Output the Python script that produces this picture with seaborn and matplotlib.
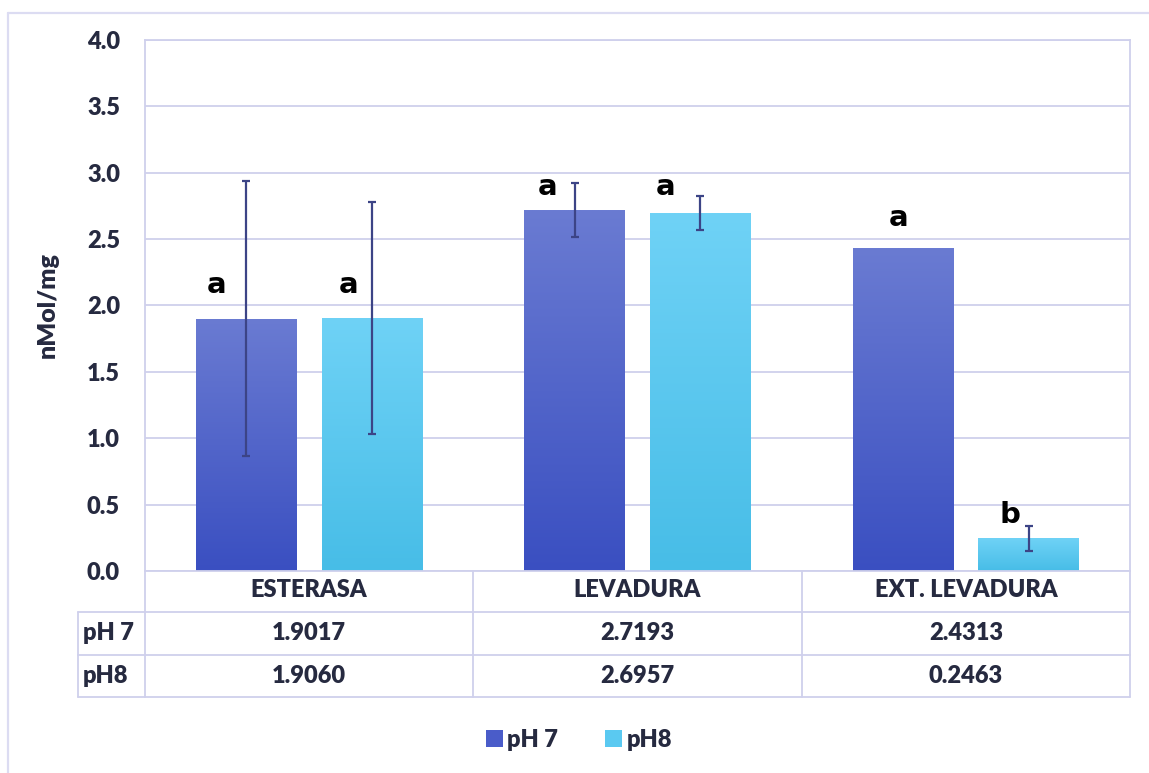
import numpy as np
import pandas as pd
import matplotlib
matplotlib.use("Agg")
import matplotlib.pyplot as plt
import matplotlib.transforms as mtransforms
from matplotlib.colors import LinearSegmentedColormap
from matplotlib.lines import Line2D
from matplotlib.patches import Rectangle
import seaborn as sns

# ---- data ----
categories = ["ESTERASA", "LEVADURA", "EXT. LEVADURA"]
series = ["pH 7", "pH8"]
ph7_values = [1.9017, 2.7193, 2.4313]
ph8_values = [1.9060, 2.6957, 0.2463]
ph7_sd = [1.033, 0.202, 0.0]
ph8_sd = [0.875, 0.130, 0.092]
ph7_letters = ["a", "a", "a"]
ph8_letters = ["a", "a", "b"]
ph7_table = ["1.9017", "2.7193", "2.4313"]
ph8_table = ["1.9060", "2.6957", "0.2463"]
y_ticks = [0.0, 0.5, 1.0, 1.5, 2.0, 2.5, 3.0, 3.5, 4.0]
y_label = "nMol/mg"

# ---- style ----
TEXT = "#262a40"
GRID = "#cfd0ec"
ERR = "#3c4486"
PH7_TOP, PH7_BOT = "#6a7bd2", "#3a4fc1"
PH8_TOP, PH8_BOT = "#6fd2f6", "#47bde7"
LEG7, LEG8 = "#4a5cc9", "#5ac9f1"
FONT = "Lato"
WEIGHT = "heavy"

sns.set_theme(style="white")
plt.rcParams["font.family"] = [FONT, "DejaVu Sans"]

df = pd.DataFrame({
    "category": categories * 2,
    "series": [series[0]] * 3 + [series[1]] * 3,
    "value": ph7_values + ph8_values,
})

fig = plt.figure(figsize=(11.49, 7.73), dpi=100)
ax = fig.add_axes([145 / 1149, 1 - 571 / 773, 985 / 1149, 531 / 773])

sns.barplot(data=df, x="category", y="value", hue="series", order=categories,
            hue_order=series, palette=[LEG7, LEG8], width=0.765, gap=0.2,
            errorbar=None, legend=False, ax=ax, zorder=2)

# vertical gradient fill inside every bar
grad = np.linspace(0, 1, 256).reshape(-1, 1)
cmaps = [LinearSegmentedColormap.from_list("g7", [PH7_BOT, PH7_TOP]),
         LinearSegmentedColormap.from_list("g8", [PH8_BOT, PH8_TOP])]
centers = []
for cont, cmap in zip(ax.containers, cmaps):
    cs = []
    for bar in cont:
        x0, w, h = bar.get_x(), bar.get_width(), bar.get_height()
        bar.set_edgecolor("none")
        im = ax.imshow(grad, cmap=cmap, origin="lower", aspect="auto",
                       extent=[x0, x0 + w, 0, h], zorder=2.5)
        im.set_clip_path(bar)
        cs.append(x0 + w / 2)
    centers.append(cs)

# error bars
for cs, vals, sds in zip(centers, [ph7_values, ph8_values], [ph7_sd, ph8_sd]):
    for xc, v, s in zip(cs, vals, sds):
        if s > 0:
            ax.errorbar(xc, v, yerr=s, fmt="none", ecolor=ERR, elinewidth=1.6,
                        capsize=3, capthick=1.6, zorder=4)

# significance letters (offset left of each bar centre, at a baseline height)
letter_place = [[(-0.091, 2.093), (-0.082, 2.832), (-0.015, 2.599)],
                [(-0.070, 2.093), (-0.107, 2.832), (-0.056, 0.362)]]
for cs, letters, place in zip(centers, [ph7_letters, ph8_letters], letter_place):
    for xc, lt, (dx, yb) in zip(cs, letters, place):
        ax.text(xc + dx, yb, lt, ha="center", va="baseline", fontsize=21,
                fontweight="bold", color="black", family="DejaVu Sans", zorder=5)

ax.set_xlim(-0.5, 2.5)
ax.set_ylim(0, 4.0)
ax.set_yticks(y_ticks)
ax.set_yticklabels([f"{t:.1f}" for t in y_ticks], fontsize=17,
                   fontweight=WEIGHT, color=TEXT)
ax.tick_params(axis="y", length=0, pad=18)
ax.set_xticks([])
ax.set_xlabel("")
ax.set_ylabel(y_label, fontsize=18, fontweight=WEIGHT, color=TEXT)
ax.yaxis.set_label_coords(-0.088, 0.5)
ax.yaxis.grid(True, color=GRID, linewidth=1.3, zorder=0)
ax.set_axisbelow(True)
for sp in ax.spines.values():
    sp.set_color(GRID)
    sp.set_linewidth(1.3)
    sp.set_visible(True)

# ---- data table under the axis ----
blend = mtransforms.blended_transform_factory(ax.transData, ax.transAxes)
row_lines = [-41 / 531, -84 / 531, -126 / 531]
left_col = -67 / 985
lkw = dict(color=GRID, linewidth=1.3, clip_on=False, zorder=1)
for yl in row_lines:
    ax.add_line(Line2D([left_col, 1.0], [yl, yl], transform=ax.transAxes, **lkw))
for xb in [-0.5, 0.5, 1.5, 2.5]:
    ax.add_line(Line2D([xb, xb], [0, row_lines[-1]], transform=blend, **lkw))
ax.add_line(Line2D([left_col, left_col], [row_lines[0], row_lines[-1]],
                   transform=ax.transAxes, **lkw))

tkw = dict(fontsize=17, fontweight=WEIGHT, color=TEXT, va="center", clip_on=False)
y_head, y_r1, y_r2 = -19 / 531, -62 / 531, -105 / 531
for i, cat in enumerate(categories):
    ax.text(i, y_head, cat, ha="center", transform=blend, **tkw)
    ax.text(i, y_r1, ph7_table[i], ha="center", transform=blend, **tkw)
    ax.text(i, y_r2, ph8_table[i], ha="center", transform=blend, **tkw)
ax.text(left_col + 5 / 985, y_r1, series[0], ha="left", transform=ax.transAxes, **tkw)
ax.text(left_col + 5 / 985, y_r2, series[1], ha="left", transform=ax.transAxes, **tkw)

# legend
handles = [Rectangle((0, 0), 1, 1, facecolor=LEG7, edgecolor="none"),
           Rectangle((0, 0), 1, 1, facecolor=LEG8, edgecolor="none")]
fig.legend(handles, series, loc="center", bbox_to_anchor=(0.504, 1 - 740 / 773),
           ncol=2, frameon=False, handlelength=0.7, handleheight=0.7,
           handletextpad=0.2, columnspacing=2.0,
           prop={"family": FONT, "weight": WEIGHT, "size": 17},
           labelcolor=TEXT)

# outer chart frame (top and left edges)
fig.add_artist(Line2D([8 / 1149, 1.0], [1 - 13 / 773, 1 - 13 / 773],
                      transform=fig.transFigure, color="#dcdcf2", linewidth=1.6))
fig.add_artist(Line2D([8 / 1149, 8 / 1149], [0, 1 - 13 / 773],
                      transform=fig.transFigure, color="#dcdcf2", linewidth=1.6))

fig.savefig("out.png", dpi=100, facecolor="white")
